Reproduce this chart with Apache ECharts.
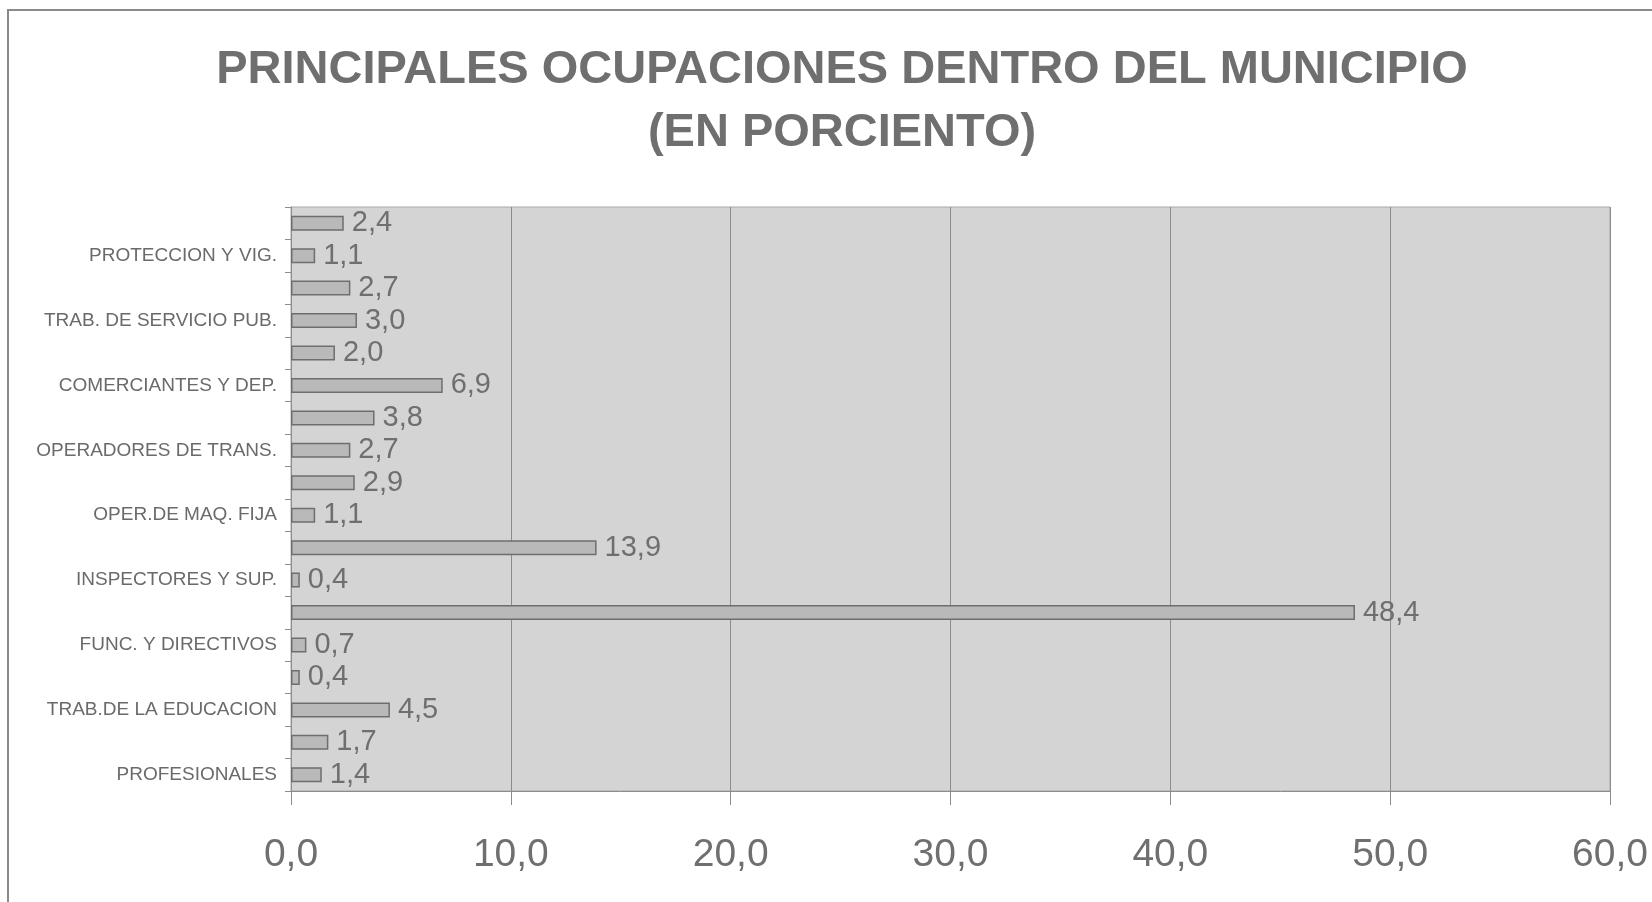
<!DOCTYPE html>
<html>
<head>
<meta charset="utf-8">
<script src="https://cdn.jsdelivr.net/npm/echarts@6/dist/echarts.min.js"></script>
<style>
  html, body { margin: 0; padding: 0; background: #fff; }
  #chart { width: 1652px; height: 902px; }
</style>
</head>
<body>
<div id="chart"></div>
<script>
  // categories from bottom to top, only every other one carries a visible name
  let categories = ['PROFESIONALES', '', 'TRAB.DE LA EDUCACION', '', 'FUNC. Y DIRECTIVOS', '',
    'INSPECTORES Y SUP.', '', 'OPER.DE MAQ. FIJA', '', 'OPERADORES DE TRANS.', '',
    'COMERCIANTES Y DEP.', '', 'TRAB. DE SERVICIO PUB.', '', 'PROTECCION Y VIG.', '']
  let values = [1.4, 1.7, 4.5, 0.4, 0.7, 48.4, 0.4, 13.9, 1.1, 2.9, 2.7, 3.8, 6.9, 2.0, 3.0, 2.7, 1.1, 2.4]
  let xTicks = [0, 10, 20, 30, 40, 50, 60]

  let fmt = v => Number(v).toFixed(1).replace('.', ',')
  let font = '"Liberation Sans", Arial, sans-serif'

  let myChart = echarts.init(document.getElementById('chart'))
  let option = {
    animation: false,
    backgroundColor: '#fff',
    textStyle: {fontFamily: font},
    graphic: [{
      type: 'rect',
      shape: {x: 8, y: 10, width: 1700, height: 1000},
      style: {fill: 'none', stroke: '#8a8a8a', lineWidth: 2},
      silent: true
    }],
    title: {
      text: 'PRINCIPALES OCUPACIONES DENTRO DEL MUNICIPIO\n(EN PORCIENTO)',
      left: 837,
      top: 34,
      textAlign: 'center',
      textStyle: {
        fontFamily: font,
        fontSize: 47,
        fontWeight: 'bold',
        color: '#6f6f6f',
        lineHeight: 63
      }
    },
    grid: {
      left: 291,
      right: 42,
      top: 207,
      bottom: 111,
      show: true,
      backgroundColor: '#d4d4d4',
      borderColor: '#a8a8a8',
      borderWidth: 1
    },
    xAxis: {
      type: 'value',
      min: xTicks[0],
      max: xTicks[xTicks.length - 1],
      interval: 10,
      axisLine: {show: true, lineStyle: {color: '#8c8c8c', width: 1}},
      axisTick: {show: true, length: 14, lineStyle: {color: '#8c8c8c'}},
      splitLine: {show: true, lineStyle: {color: '#8c8c8c', width: 1}},
      axisLabel: {
        formatter: fmt,
        fontSize: 39,
        color: '#6f6f6f',
        margin: 45,
        fontFamily: font
      }
    },
    yAxis: {
      type: 'category',
      data: categories,
      axisLine: {show: true, lineStyle: {color: '#8c8c8c', width: 1}},
      axisTick: {show: true, length: 6, alignWithLabel: false, interval: 0, lineStyle: {color: '#8c8c8c'}},
      axisLabel: {
        interval: 0,
        fontSize: 19,
        color: '#6a6a6a',
        margin: 14,
        fontFamily: font
      },
      splitLine: {show: false}
    },
    series: [{
      type: 'bar',
      data: values,
      barWidth: 15,
      itemStyle: {
        color: '#b9b9b9',
        borderColor: '#6e6e6e',
        borderWidth: 1.5
      },
      label: {
        show: true,
        position: 'right',
        distance: 8,
        formatter: p => fmt(p.value),
        fontSize: 29,
        color: '#6f6f6f',
        fontFamily: font
      }
    }]
  }
  myChart.setOption(option)
</script>
</body>
</html>
